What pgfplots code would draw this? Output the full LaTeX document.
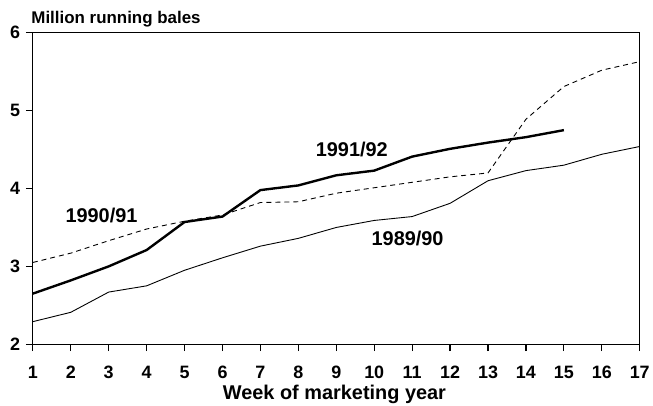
\documentclass[border=0pt]{standalone}
\usepackage{pgfplots}
\pgfplotsset{compat=1.18}
\usepackage{fontspec}
\setmainfont{Liberation Sans}

\begin{document}
\begin{tikzpicture}
\begin{axis}[
  scale only axis,
  width=610pt, height=313pt,
  xmin=1, xmax=17, ymin=2, ymax=6,
  xtick={1,...,17}, ytick={2,3,4,5,6},
  xtick pos=bottom, ytick pos=left,
  xtick align=outside, ytick align=outside,
  major tick length=7pt,
  every axis/.append style={line width=1.2pt},
  major tick style={draw=black, line width=1.2pt},
  tick label style={font=\fontsize{18}{21}\selectfont\bfseries},
  /pgf/number format/assume math mode=true,
  xticklabel style={anchor=base, yshift=-27pt},
  yticklabel style={xshift=-2pt},
  clip=false,
]
% 1989/90
\addplot[black, line width=0.9pt] coordinates {
 (1,2.29) (2,2.41) (3,2.67) (4,2.75) (5,2.95) (6,3.11) (7,3.26) (8,3.36)
 (9,3.50) (10,3.59) (11,3.64) (12,3.81) (13,4.10) (14,4.23) (15,4.30)
 (16,4.44) (17,4.54)};
% 1990/91
\addplot[black, line width=0.9pt, dash pattern=on 5pt off 4pt] coordinates {
 (1,3.05) (2,3.17) (3,3.33) (4,3.48) (5,3.58) (6,3.66) (7,3.82) (8,3.83)
 (9,3.94) (10,4.01) (11,4.08) (12,4.15) (13,4.20) (14,4.89) (15,5.31)
 (16,5.52) (17,5.63)};
% 1991/92
\addplot[black, line width=2.4pt] coordinates {
 (1,2.65) (2,2.82) (3,3.00) (4,3.21) (5,3.57) (6,3.64) (7,3.98) (8,4.04)
 (9,4.17) (10,4.23) (11,4.41) (12,4.51) (13,4.59) (14,4.66) (15,4.75)};
% tick marks drawn again, so they show for certain
\pgfplotsinvokeforeach{1,...,17}{
  \draw[line width=1.2pt] (axis cs:#1,2) -- ([yshift=-7pt]axis cs:#1,2);
}
\pgfplotsinvokeforeach{2,...,6}{
  \draw[line width=1.2pt] (axis cs:1,#1) -- ([xshift=-7pt]axis cs:1,#1);
}
\node[font=\fontsize{20}{24}\selectfont\bfseries] at (axis cs:2.81,3.66) {1990/91};
\node[font=\fontsize{20}{24}\selectfont\bfseries] at (axis cs:9.41,4.50) {1991/92};
\node[font=\fontsize{20}{24}\selectfont\bfseries] at (axis cs:10.88,3.36) {1989/90};
\node[font=\fontsize{17}{20}\selectfont\bfseries, anchor=base west, inner sep=0pt]
  at ([xshift=-2pt, yshift=9pt]rel axis cs:0,1) {Million running bales};
\node[font=\fontsize{20}{24}\selectfont\bfseries, anchor=base, inner sep=0pt]
  at ([yshift=-56pt]rel axis cs:0.497,0) {Week of marketing year};
\path ([xshift=-33pt, yshift=-62pt]rel axis cs:0,0)
      ([xshift=10pt, yshift=33pt]rel axis cs:1,1);
\end{axis}
\end{tikzpicture}
\end{document}
